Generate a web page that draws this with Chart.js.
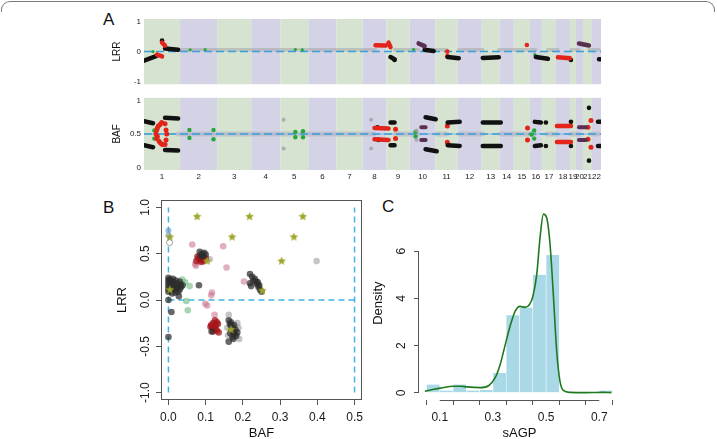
<!DOCTYPE html>
<html><head><meta charset="utf-8">
<script src="https://cdn.jsdelivr.net/npm/chart.js@4.4.0/dist/chart.umd.min.js"></script>
<style>
html,body{margin:0;padding:0;background:#fff}
body{width:717px;height:439px;overflow:hidden;position:relative;font-family:"Liberation Sans",Arial,sans-serif}
canvas{position:absolute}
.lab{position:absolute;font-size:17px;line-height:17px;color:#111}
#frame{position:absolute;left:1px;top:1px;width:712px;height:10px;border:1.5px solid #7a7a7a;border-bottom:none;border-radius:9px 9px 0 0}
</style></head><body>
<div id="frame"></div>
<div class="lab" style="left:103px;top:11px">A</div>
<div class="lab" style="left:103px;top:199px">B</div>
<div class="lab" style="left:382px;top:198px">C</div>
<canvas id="lrr" width="717" height="92" style="left:0;top:0"></canvas>
<canvas id="baf" width="717" height="100" style="left:0;top:90px"></canvas>
<canvas id="pb" width="270" height="260" style="left:100px;top:190px"></canvas>
<canvas id="pc" width="270" height="260" style="left:370px;top:190px"></canvas>
<script>
// ---------------- DATA ----------------
// Panel A: chromosomes and their (approximate) plotted lengths in Mb
const chromNames = ['1','2','3','4','5','6','7','8','9','10','11','12','13','14','15','16','17','18','19','20','21','22'];
const chromLenMb = [216,222,204,174,168,168,156,144,138,156,132,144,108,84,96,72,84,84,36,42,54,54];
// segments: [startMb, endMb, startValue, endValue]; points: [Mb, value]
const lrrBlackSeg = [[0,72,-0.3,-0.15],[126,204,0.1,0.06],[1476,1500,-0.18,-0.25],[1680,1734,0.06,0.02],[1818,1884,-0.18,-0.22],[2028,2124,-0.21,-0.19],[2346,2418,-0.18,-0.24],[2724,2742,-0.25,-0.25]];
const lrrBlackPts = [[108,0.37],[2556,-0.28],[1500,-0.28]];
const lrrRedSeg = [[78,108,-0.1,-0.16],[108,126,0.3,0.2],[1386,1446,0.21,0.2],[1464,1476,0.3,0.15],[2478,2550,-0.19,-0.22]];
const lrrRedPts = [[1816,0.0],[1816,-0.15],[2292,0.22]];
const lrrMixSeg = [[1644,1680,0.27,0.18],[2604,2664,0.27,0.2]];
const lrrGreenPts = [[54,0.0],[2340,-0.1],[276,0.06],[366,0.07],[906,0.07],[948,0.06],[1614,0.07]];
const lrrGraySeg = [[204,1386,0.06,0.06],[1500,1644,0.06,0.06],[1734,1812,0.06,0.06],[1884,2028,0.06,0.06],[2124,2292,0.06,0.06],[2298,2346,0.06,0.06],[2418,2478,0.06,0.06],[2556,2604,0.06,0.06],[2664,2724,0.06,0.06]];
const lrrRef = 0;
const lrrTicks = [-1,0,1], lrrTickLabels = ['-1','0','1'];

const bafBlackSeg = [[0,54,0.69,0.66],[0,54,0.33,0.3],[126,204,0.74,0.73],[126,204,0.26,0.25],[1476,1500,0.67,0.67],[1476,1500,0.33,0.33],[1686,1746,0.75,0.72],[1686,1752,0.27,0.24],[1818,1890,0.67,0.68],[1818,1890,0.33,0.32],[2028,2136,0.67,0.67],[2028,2136,0.32,0.32],[2340,2376,0.68,0.67],[2340,2376,0.32,0.33],[2718,2742,0.68,0.68],[2718,2742,0.32,0.32]];
const bafBlackPts = [[2406,0.67],[2406,0.32],[2556,0.68],[2556,0.32],[2664,0.89],[2664,0.1],[1398,0.6],[1404,0.41]];
const bafRedSeg = [[1380,1464,0.59,0.58],[1380,1464,0.42,0.41],[2472,2556,0.62,0.62],[2472,2556,0.38,0.38]];
const bafRedPts = [[106,0.67],[86,0.62],[76,0.56],[72,0.5],[76,0.43],[90,0.39],[110,0.34],[126,0.65],[132,0.56],[136,0.5],[132,0.41],[126,0.34],[96,0.64],[80,0.59],[80,0.46],[100,0.36],[1506,0.57],[1506,0.43],[1816,0.62],[1816,0.375],[2296,0.59],[2296,0.41],[2658,0.6],[2658,0.42],[2676,0.7],[2676,0.3]];
const bafMixSeg = [[1660,1686,0.6,0.6],[1660,1686,0.41,0.41],[2604,2646,0.6,0.6],[2604,2646,0.41,0.41]];
const bafGreenPts = [[62,0.55],[62,0.43],[272,0.56],[272,0.44],[416,0.56],[416,0.42],[906,0.53],[906,0.45],[952,0.54],[952,0.45],[1626,0.53],[1626,0.46],[2336,0.55],[2336,0.43],[2320,0.49]];
const bafGrayPts = [[836,0.71],[836,0.28],[1360,0.71],[1360,0.28],[1632,0.55],[1632,0.41]];
const bafGraySeg = [[204,1376,0.5,0.5],[1506,1644,0.5,0.5],[1752,1812,0.5,0.5],[1890,2028,0.5,0.5],[2136,2292,0.5,0.5],[2300,2336,0.5,0.5],[2412,2472,0.5,0.5],[2556,2604,0.5,0.5],[2676,2718,0.5,0.5]];
const bafRef = 0.5;
const bafTicks = [0,0.5,1], bafTickLabels = ['0','0.5','1'];

// Panel B: [BAF, LRR]
const bDark = [[0,0.24],[0,0.21],[0,0.18],[0,0.15],[0,0.12],[0,0.09],[0.004,0.22],[0.006,0.19],[0.006,0.16],[0.008,0.13],[0.004,0.10],[0.012,0.23],[0.012,0.2],[0.014,0.17],[0.016,0.14],[0.013,0.11],[0.02,0.21],[0.022,0.18],[0.024,0.15],[0.02,0.12],[0.026,0.09],[0.03,0.2],[0.032,0.17],[0.034,0.14],[0.03,0.11],[0.038,0.16],[0.01,0.07],[0.018,0.08],[0.028,0.04],[0,0.0],[0.008,-0.13],[0,-0.4],[0.082,0.16],
  [0.084,0.52],[0.09,0.5],[0.096,0.51],[0.092,0.47],[0.086,0.48],[0.1,0.49],
  [0.219,0.28],[0.225,0.25],[0.232,0.23],[0.236,0.2],[0.238,0.17],[0.242,0.14],[0.246,0.11],[0.25,0.09],[0.219,0.18],[0.222,0.15],[0.228,0.21],[0.24,0.19],[0.244,0.16],
  [0.162,-0.22],[0.165,-0.26],[0.168,-0.28],[0.172,-0.3],[0.17,-0.33],[0.175,-0.35],[0.178,-0.37],[0.172,-0.4],[0.18,-0.32],[0.176,-0.27],[0.166,-0.36],[0.182,-0.39],[0.185,-0.35],[0.162,-0.45],[0.168,-0.24],[0.174,-0.42],[0.116,-0.34]];
const bGray = [[0.162,-0.16],[0.158,-0.3],[0.188,-0.3],[0.19,-0.42],[0.16,-0.38],[0.111,0.44],[0.185,-0.25],[0.398,0.42]];
const bRed = [[0.075,0.42],[0.08,0.45],[0.085,0.43],[0.09,0.44],[0.095,0.42],[0.1,0.45],[0.088,0.41],[0.078,0.47],[0.094,0.46],
  [0.125,-0.22],[0.13,-0.24],[0.12,-0.25],[0.115,-0.27],[0.113,-0.29],[0.118,-0.3],[0.125,-0.31],[0.13,-0.33],[0.12,-0.34],[0.135,-0.35],[0.127,-0.28],[0.133,-0.26]];
const bPink = [[0.064,0.6],[0.147,0.58],[0.156,0.35],[0.074,0.37],[0.072,0.39],[0.203,0.2],[0.117,0.08],[0.115,0.05],[0.099,-0.04],[0.104,-0.06],[0.124,-0.16]];
const bGreen = [[0.037,0.22],[0.057,0.15],[0.032,0.14],[0.045,0.19],[0.048,-0.01],[0.052,-0.11]];
const bBlue = [[0,0.75],[0,0.7]];
const bOpen = [[0.003,0.62]];
const bStars = [[0.077,0.9],[0.218,0.9],[0.361,0.9],[0.004,0.68],[0.171,0.68],[0.337,0.68],[0.104,0.42],[0.304,0.42],[0.004,0.11],[0.252,0.10],[0.168,-0.32],[0.005,1.12],[0.13,1.12],[0.254,1.12],[0.378,1.12]];
const bRefBAF = [0, 0.5], bRefLRR = 0, bRefRange = [-1, 1];
const bXTicks = [0,0.1,0.2,0.3,0.4,0.5], bXLabels = ['0.0','0.1','0.2','0.3','0.4','0.5'];
const bYTicks = [-1,-0.5,0,0.5,1], bYLabels = ['-1.0','-0.5','0.0','0.5','1.0'];

// Panel C: histogram of sAGP (bin centers, density) and density curve
const cBinCenters = [0.075,0.125,0.175,0.225,0.275,0.325,0.375,0.425,0.475,0.525,0.575,0.625,0.675,0.725];
const cBinDensity = [0.35,0.1,0.35,0.1,0.12,0.84,3.29,3.6,5.0,5.84,0,0,0,0.1];
const cCurveX = [0.044,0.07,0.102,0.152,0.18,0.2025,0.2524,0.2836,0.3086,0.327,0.346,0.365,0.384,0.402,0.421,0.437,0.45,0.465,0.477,0.49,0.502,0.515,0.527,0.54,0.552,0.565,0.59,0.65,0.715,0.746];
const cCurveY = [0.07,0.13,0.2,0.28,0.28,0.25,0.22,0.3,0.64,1.19,2.02,2.84,3.46,3.66,3.62,3.73,4.07,5.03,6.54,7.57,7.43,6.27,4.21,1.74,0.51,0.1,0.02,0.01,0.02,0.01];
const cXTicks = [0.1,0.2,0.3,0.4,0.5,0.6,0.7], cXLabels = ['0.1','','0.3','','0.5','','0.7'];
const cYTicks = [0,2,4,6], cYLabels = ['0','2','4','6'];

// ---------------- RENDER ----------------
Chart.defaults.font.family = "'Liberation Sans', Arial, sans-serif";
Chart.defaults.color = '#1a1a1a';
Chart.defaults.animation = false;
Chart.defaults.plugins.legend.display = false;
Chart.defaults.plugins.tooltip.enabled = false;

const chromStarts = []; let acc = 0;
chromLenMb.forEach(l => { chromStarts.push(acc); acc += l; });
const genomeLen = acc;

function segData(segs){ const d=[]; segs.forEach(s=>{ d.push({x:s[0],y:s[2]},{x:s[1],y:s[3]},{x:s[1],y:null}); }); return d; }
function ptData(p){ return p.map(q=>({x:q[0],y:q[1]})); }
function segDS(segs,color,w,order){ return {type:'line',data:segData(segs),borderColor:color,borderWidth:w,borderCapStyle:'round',pointRadius:0,spanGaps:false,order:order||0}; }
function ptDS(p,color,r,order){ return {type:'scatter',data:ptData(p),backgroundColor:color,borderWidth:0,pointRadius:r,order:order||0}; }
function refDS(v,color,w,dash,order){ return {type:'line',data:[{x:0,y:v},{x:genomeLen,y:v}],borderColor:color,borderWidth:w,borderDash:dash||[],pointRadius:0,order:order}; }

const bandPlugin = { id:'bands', beforeDatasetsDraw(chart){
  const {ctx, chartArea:a, scales:{x}} = chart; ctx.save();
  chromStarts.forEach((s,i)=>{ const x0=x.getPixelForValue(s), x1=x.getPixelForValue(s+chromLenMb[i]);
    ctx.fillStyle = i%2 ? '#d3d3e5' : '#d6e3d1'; ctx.fillRect(x0,a.top,x1-x0,a.bottom-a.top); });
  ctx.restore(); } };

const BLACK='#111111', RED='#e3241b', GREEN='#25a83a', MIX='#5a3050';

function genomeChart(id, datasets, yMin, yMax, yTicks, yLabels, title, showX, pad, xH){
  return new Chart(document.getElementById(id), {
    type:'scatter', data:{datasets},
    options:{ responsive:false, layout:{padding:pad},
      scales:{
        x:{type:'linear', min:0, max:genomeLen, display:showX,
           afterBuildTicks:s=>{ s.ticks = chromStarts.map((st,i)=>({value:st+chromLenMb[i]/2})); },
           ticks:{autoSkip:false, maxRotation:0, minRotation:0, padding:2, font:{size:8}, callback:(v,i)=>chromNames[i]},
           grid:{display:false, drawTicks:false}, border:{display:false},
           afterFit:s=>{ s.height = xH; } },
        y:{type:'linear', min:yMin, max:yMax,
           afterBuildTicks:s=>{ s.ticks = yTicks.map(v=>({value:v})); },
           ticks:{padding:3, font:{size:8}, callback:(v,i)=>yLabels[i]},
           grid:{display:false, drawTicks:false}, border:{display:false},
           title:{display:true, text:title, font:{size:10}, color:'#111', padding:0},
           afterFit:s=>{ s.width = 33; } } } },
    plugins:[bandPlugin] });
}

genomeChart('lrr', [
  refDS(lrrRef,'#3b9fd9',1.5,[8,4],1),
  segDS(lrrGraySeg,'rgba(165,165,170,0.55)',3.5,2),
  segDS(lrrMixSeg,MIX,4.5), segDS(lrrRedSeg,RED,4.5), segDS(lrrBlackSeg,BLACK,4.5),
  ptDS(lrrBlackPts,BLACK,2.3), ptDS(lrrRedPts,RED,2.3), ptDS(lrrGreenPts,GREEN,1.6)
], -1.08, 1.08, lrrTicks, lrrTickLabels, 'LRR', false, {left:111,right:116,top:19,bottom:3}, 0);

genomeChart('baf', [
  refDS(bafRef,'#3b9fd9',1.5,[8,4],1),
  refDS(bafRef,'rgba(110,175,225,0.6)',1.5,[],3),
  segDS(bafGraySeg,'rgba(180,180,195,0.6)',5,2),
  ptDS(bafGrayPts,'rgba(160,160,170,0.8)',2),
  segDS(bafMixSeg,MIX,4), segDS(bafRedSeg,RED,4.5), segDS(bafBlackSeg,BLACK,4.5),
  ptDS(bafBlackPts,BLACK,2.3), ptDS(bafRedPts,RED,2.5), ptDS(bafGreenPts,GREEN,2.2)
], -0.04, 1.04, bafTicks, bafTickLabels, 'BAF', true, {left:111,right:116,top:3,bottom:6}, 14);

// star point image
function starImg(size,color){ const c=document.createElement('canvas'); c.width=c.height=size; const g=c.getContext('2d');
  g.fillStyle=color; g.beginPath(); const R=size/2, r=R*0.45;
  for(let i=0;i<10;i++){ const a=-Math.PI/2+i*Math.PI/5, rr=i%2?r:R; g.lineTo(R+rr*Math.cos(a), R+rr*Math.sin(a)); }
  g.closePath(); g.fill(); return c; }

const framePlugin = { id:'frame', afterDraw(chart){ const {ctx, chartArea:a}=chart; ctx.save(); ctx.strokeStyle='#555'; ctx.lineWidth=1;
  ctx.strokeRect(Math.round(a.left)+0.5, Math.round(a.top)+0.5, Math.round(a.right-a.left)-1, Math.round(a.bottom-a.top)-1); ctx.restore(); } };

function axisCommon(ticksArr, labels, extra){ return Object.assign({ type:'linear',
  afterBuildTicks:s=>{ s.ticks = ticksArr.map(v=>({value:v})); },
  grid:{drawOnChartArea:false, drawTicks:true, tickLength:5, color:'#555'}, border:{display:false} }, extra); }

const refColor = '#3fb2e6';
new Chart(document.getElementById('pb'), { type:'scatter',
  data:{ datasets:[
    {type:'line', data:[{x:bRefBAF[0],y:bRefRange[0]},{x:bRefBAF[0],y:bRefRange[1]}], borderColor:refColor, borderWidth:1.5, borderDash:[6,4], pointRadius:0, order:5},
    {type:'line', data:[{x:bRefBAF[1],y:bRefRange[0]},{x:bRefBAF[1],y:bRefRange[1]}], borderColor:refColor, borderWidth:1.5, borderDash:[6,4], pointRadius:0, order:5},
    {type:'line', data:[{x:bRefBAF[0],y:bRefLRR},{x:bRefBAF[1],y:bRefLRR}], borderColor:refColor, borderWidth:1.5, borderDash:[6,4], pointRadius:0, order:5},
    {data:ptData(bGray), backgroundColor:'rgba(140,140,140,0.5)', borderWidth:0, pointRadius:3.3, order:4},
    {data:ptData(bPink), backgroundColor:'rgba(200,110,135,0.55)', borderWidth:0, pointRadius:3.3, order:3},
    {data:ptData(bGreen), backgroundColor:'rgba(110,185,125,0.6)', borderWidth:0, pointRadius:3.3, order:3},
    {data:ptData(bBlue), backgroundColor:'rgba(100,150,200,0.6)', borderWidth:0, pointRadius:3, order:3},
    {data:ptData(bOpen), backgroundColor:'#fff', borderColor:'rgba(120,120,120,0.7)', borderWidth:1, pointRadius:3, order:3},
    {data:ptData(bRed), backgroundColor:'rgba(165,20,25,0.75)', borderWidth:0, pointRadius:3.3, order:2},
    {data:ptData(bDark), backgroundColor:'rgba(45,45,45,0.72)', borderWidth:0, pointRadius:3.3, order:1},
    {data:ptData(bStars), pointStyle:starImg(9,'#9ea52a'), pointRadius:4.5, order:0}
  ]},
  options:{ responsive:false, layout:{padding:{left:15,right:8,top:10,bottom:9}},
    scales:{
      x: axisCommon(bXTicks, bXLabels, { min:-0.02, max:0.52,
        ticks:{padding:5, font:{size:12}, maxRotation:0, autoSkip:false, callback:(v,i)=>bXLabels[i]},
        title:{display:true, text:'BAF', font:{size:13}, color:'#111', padding:0},
        afterFit:s=>{ s.height=41; } }),
      y: axisCommon(bYTicks, bYLabels, { min:-1.08, max:1.08,
        ticks:{padding:0, font:{size:12}, minRotation:90, maxRotation:90, crossAlign:'center', autoSkip:false, callback:(v,i)=>bYLabels[i]},
        title:{display:true, text:'LRR', font:{size:13}, color:'#111', padding:0},
        afterFit:s=>{ s.width=46; } }) } },
  plugins:[framePlugin] });

const axisLinePlugin = { id:'axisLines', afterDraw(chart){ const {ctx, chartArea:a, scales:{x,y}}=chart; ctx.save(); ctx.strokeStyle='#555'; ctx.lineWidth=1;
  ctx.beginPath(); const yb=Math.round(a.bottom)+0.5; ctx.moveTo(x.getPixelForValue(cXTicks[0]),yb); ctx.lineTo(x.getPixelForValue(cXTicks[cXTicks.length-1]),yb);
  const xl=Math.round(a.left)-0.5; ctx.moveTo(xl,y.getPixelForValue(cYTicks[0])); ctx.lineTo(xl,y.getPixelForValue(cYTicks[cYTicks.length-1])); ctx.stroke(); ctx.restore(); } };

new Chart(document.getElementById('pc'), { type:'bar',
  data:{ datasets:[
    {type:'line', data:cCurveX.map((v,i)=>({x:v,y:cCurveY[i]})), borderColor:'#1f7a1f', borderWidth:1.6, pointRadius:0, cubicInterpolationMode:'monotone', order:0},
    {type:'bar', data:cBinCenters.map((v,i)=>({x:v,y:cBinDensity[i]})), backgroundColor:'#a9d8e6', borderColor:'rgba(255,255,255,0.45)', borderWidth:{left:0.6,right:0.6,top:0,bottom:0}, barPercentage:1, categoryPercentage:1, order:1}
  ]},
  options:{ responsive:false, layout:{padding:{left:1,right:20,top:10,bottom:9}},
    scales:{
      x: axisCommon(cXTicks, cXLabels, { min:0.022, max:0.778, offset:false,
        ticks:{padding:5, font:{size:12}, maxRotation:0, autoSkip:false, callback:(v,i)=>cXLabels[i]},
        title:{display:true, text:'sAGP', font:{size:13}, color:'#111', padding:0},
        afterFit:s=>{ s.height=41; } }),
      y: axisCommon(cYTicks, cYLabels, { min:-0.304, max:7.904,
        ticks:{padding:9, font:{size:12}, minRotation:90, maxRotation:90, crossAlign:'center', autoSkip:false, callback:(v,i)=>cYLabels[i]},
        title:{display:true, text:'Density', font:{size:13}, color:'#111', padding:0},
        afterFit:s=>{ s.width=48; } }) } },
  plugins:[axisLinePlugin] });
</script>
</body></html>
